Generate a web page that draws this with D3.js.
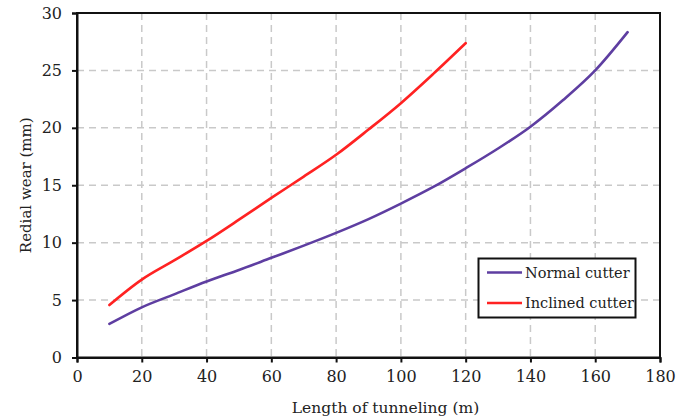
<!DOCTYPE html>
<html>
<head>
<meta charset="utf-8">
<script src="https://cdn.jsdelivr.net/npm/d3@7"></script>
<style>
  html, body { margin: 0; padding: 0; background: #fff; }
  svg { display: block; }
  text { font-family: "DejaVu Serif", serif; fill: #222; }
</style>
</head>
<body>
<svg id="chart" width="692" height="418"></svg>
<script>
// Tunneling length (m) at which wear was recorded
const normalLength = [10, 20, 30, 40, 50, 60, 70, 80, 90, 100, 110, 120, 130, 140, 150, 160, 170];
// Radial wear (mm) of the normal cutter
const normalWear = [2.92, 4.37, 5.5, 6.62, 7.62, 8.68, 9.74, 10.85, 12.05, 13.4, 14.85, 16.48, 18.2, 20.1, 22.4, 25.0, 28.33];
const inclinedLength = [10, 20, 30, 40, 50, 60, 70, 80, 90, 100, 110, 120];
// Radial wear (mm) of the inclined cutter
const inclinedWear = [4.57, 6.78, 8.45, 10.15, 12.0, 13.9, 15.75, 17.65, 19.85, 22.15, 24.7, 27.37];

const xTicks = [0, 20, 40, 60, 80, 100, 120, 140, 160, 180];
const yTicks = [0, 5, 10, 15, 20, 25, 30];

const seriesNames = ["Normal cutter", "Inclined cutter"];
const seriesColors = ["#5e3ea1", "#ff2222"];

const svg = d3.select("#chart");
const margin = { left: 77, top: 13, right: 32, bottom: 60.5 };
const W = 692, H = 418;
const iw = W - margin.left - margin.right;
const ih = H - margin.top - margin.bottom;

const x = d3.scaleLinear().domain([0, 180]).range([margin.left, margin.left + iw]);
const y = d3.scaleLinear().domain([0, 30]).range([margin.top + ih, margin.top]);

// dashed grid
const grid = svg.append("g");
grid.selectAll("line.gx").data(xTicks.slice(1, -1)).join("line")
  .attr("x1", d => x(d)).attr("x2", d => x(d))
  .attr("y1", y(30)).attr("y2", y(0))
  .attr("stroke", "#c9c9c9").attr("stroke-width", 1.5).attr("stroke-dasharray", "7,5");
grid.selectAll("line.gy").data(yTicks.slice(1, -1)).join("line")
  .attr("y1", d => y(d)).attr("y2", d => y(d))
  .attr("x1", x(0)).attr("x2", x(180))
  .attr("stroke", "#c9c9c9").attr("stroke-width", 1.5).attr("stroke-dasharray", "7,5");

// curves
const line = d3.line().x(d => x(d[0])).y(d => y(d[1])).curve(d3.curveMonotoneX);
const series = [
  d3.zip(normalLength, normalWear),
  d3.zip(inclinedLength, inclinedWear)
];
svg.append("g").selectAll("path").data(series).join("path")
  .attr("d", line)
  .attr("fill", "none")
  .attr("stroke", (d, i) => seriesColors[i])
  .attr("stroke-width", 2.6)
  .attr("stroke-linecap", "round");

// frame
svg.append("rect")
  .attr("x", x(0)).attr("y", y(30))
  .attr("width", x(180) - x(0)).attr("height", y(0) - y(30))
  .attr("fill", "none").attr("stroke", "#111").attr("stroke-width", 2);

// axes
const xAxis = svg.append("g").attr("transform", `translate(0,${y(0)})`)
  .call(d3.axisBottom(x).tickValues(xTicks).tickSize(5).tickPadding(8).tickFormat(d3.format("d")));
const yAxis = svg.append("g").attr("transform", `translate(${x(0)},0)`)
  .call(d3.axisLeft(y).tickValues(yTicks).tickSize(5).tickPadding(10).tickFormat(d3.format("d")));
[xAxis, yAxis].forEach(a => {
  a.select(".domain").attr("stroke", "#111").attr("stroke-width", 2);
  a.selectAll(".tick line").attr("stroke", "#111").attr("stroke-width", 2);
  a.selectAll(".tick text").attr("font-family", "DejaVu Serif, serif").attr("font-size", 16).attr("fill", "#222");
});

// axis titles
svg.append("text")
  .attr("x", (x(0) + x(180)) / 2 + 17).attr("y", 413)
  .attr("text-anchor", "middle").attr("font-size", 15.5)
  .text("Length of tunneling (m)");
svg.append("text")
  .attr("transform", `translate(31,${(y(0) + y(30)) / 2}) rotate(-90)`)
  .attr("text-anchor", "middle").attr("font-size", 15)
  .text("Redial wear (mm)");

// legend
const lg = svg.append("g");
lg.append("rect")
  .attr("x", 478.5).attr("y", 258.5).attr("width", 157).attr("height", 59)
  .attr("fill", "#fff").attr("stroke", "#111").attr("stroke-width", 2);
seriesNames.forEach((name, i) => {
  const cy = 272.5 + i * 30.5;
  lg.append("line")
    .attr("x1", 487).attr("x2", 522).attr("y1", cy).attr("y2", cy)
    .attr("stroke", seriesColors[i]).attr("stroke-width", 2.6);
  lg.append("text")
    .attr("x", 525).attr("y", cy).attr("dy", "0.35em")
    .attr("font-size", 14.5)
    .text(name);
});
</script>
</body>
</html>
